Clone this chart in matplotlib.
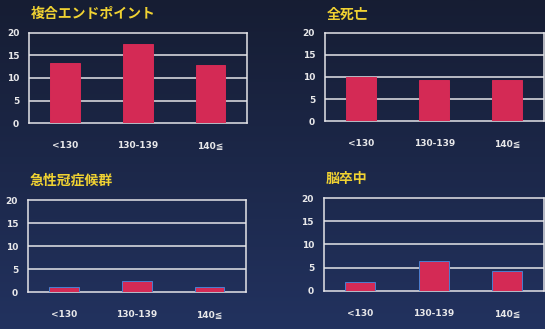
import numpy as np
import matplotlib
matplotlib.use("Agg")
import matplotlib.pyplot as plt

plt.rcParams['font.family'] = ['DejaVu Sans', 'Noto Sans CJK JP']

# categories (systolic blood pressure groups)
categories = ['<130', '130-139', '140≦']

# event rates per panel
composite = [13.3, 17.5, 12.9]
all_death = [10.0, 9.3, 9.3]
acs = [1.1, 2.4, 1.1]
stroke = [1.9, 6.4, 4.3]

titles = ['複合エンドポイント', '全死亡', '急性冠症候群', '脳卒中']
series = [composite, all_death, acs, stroke]

# axes boxes [left, bottom, width, height] in figure fractions
boxes = [
    [0.053, 0.626, 0.400, 0.274],
    [0.596, 0.632, 0.402, 0.268],
    [0.051, 0.112, 0.400, 0.280],
    [0.594, 0.116, 0.404, 0.282],
]

fig = plt.figure(figsize=(5.45, 3.29), dpi=100)

# dark navy background, a bit bluer toward the bottom
bg = fig.add_axes([0, 0, 1, 1])
grad = np.linspace(0, 1, 256).reshape(-1, 1)
bg.imshow(grad, aspect='auto', extent=[0, 1, 0, 1],
          cmap=matplotlib.colors.LinearSegmentedColormap.from_list(
              'bg', ['#161d33', '#22325f']))
bg.axis('off')

bar_color = '#d42a55'
line_color = '#e4e4e8'
title_color = '#f0d232'

for i, (box, title, vals) in enumerate(zip(boxes, titles, series)):
    ax = fig.add_axes(box)
    ax.set_facecolor('none')
    x = np.arange(len(categories))
    # bottom panels show a thin blue rim around the bars
    edge = '#4a7fd0' if i >= 2 else bar_color
    ax.bar(x, vals, width=0.41, color=bar_color, edgecolor=edge,
           linewidth=0.7, zorder=3)
    ax.set_xlim(-0.5, 2.5)
    ax.set_ylim(0, 20)
    ax.set_yticks([0, 5, 10, 15, 20])
    ax.set_xticks(x)
    ax.set_xticklabels(categories)
    for y in [5, 10, 15]:
        ax.axhline(y, color=line_color, linewidth=1.1, zorder=1)
    for s in ax.spines.values():
        s.set_color(line_color)
        s.set_linewidth(1.1)
    ax.tick_params(length=0, colors='#e8e8ea', labelsize=6.5)
    ax.tick_params(axis='x', pad=13)
    ax.tick_params(axis='y', pad=7)
    for lab in ax.get_xticklabels() + ax.get_yticklabels():
        lab.set_fontweight('bold')
    ax.text(0.01, 1.13, title, transform=ax.transAxes, color=title_color,
            fontsize=10, fontweight='bold', family=['Noto Sans CJK JP'],
            ha='left', va='bottom')

fig.savefig('out.png', dpi=100, facecolor=fig.get_facecolor())
